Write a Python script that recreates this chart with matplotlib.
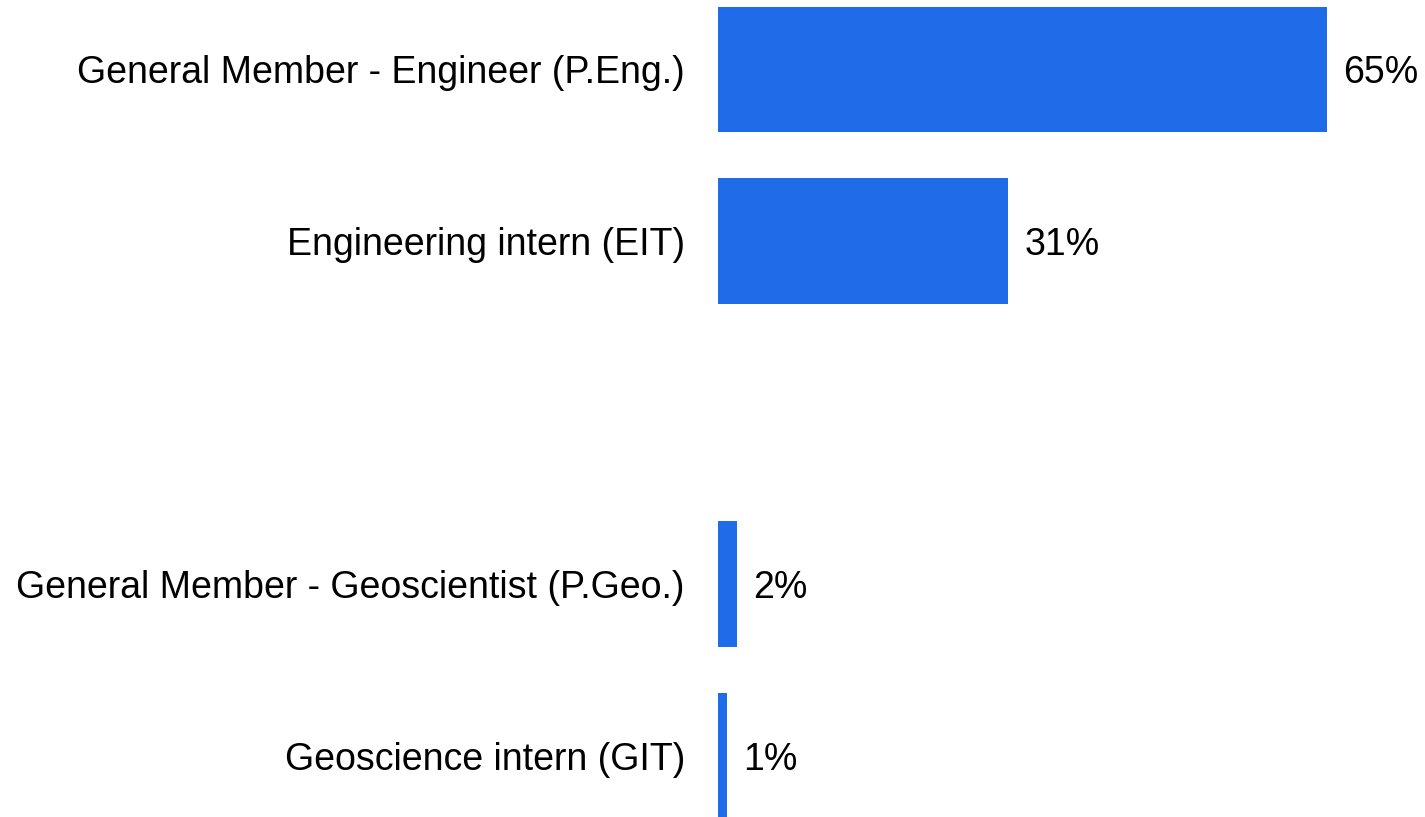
import numpy as np
import matplotlib
matplotlib.use("Agg")
import matplotlib.pyplot as plt

FONT = "Liberation Sans"

# categories (one empty slot between the engineering and geoscience groups)
categories = ["General Member - Engineer (P.Eng.)",
              "Engineering intern (EIT)",
              "",
              "General Member - Geoscientist (P.Geo.)",
              "Geoscience intern (GIT)"]
shares = [65, 31, np.nan, 2, 1]
value_labels = ["65%", "31%", "", "2%", "1%"]

fig = plt.figure(figsize=(14.25, 8.17), dpi=100)
ax = fig.add_axes([718/1425, 0, 707/1425, 1])

ypos = np.arange(len(categories))
bars = ax.barh(ypos, shares, height=0.734, color="#1f6be8")

for y, v, lab in zip(ypos, shares, value_labels):
    if lab:
        ax.annotate(lab, xy=(v, y), xytext=(11.5, 0), textcoords="offset points",
                    ha="left", va="center_baseline", fontsize=27, color="#000000",
                    family=FONT)

ax.set_yticks(ypos)
ax.set_yticklabels(categories, fontsize=27, color="#000000", family=FONT)
ax.tick_params(axis="y", length=0, pad=23.8)
ax.set_xticks([])
ax.set_xlim(0, 707/9.37)
ax.set_ylim(4.356, -0.405)
for s in ax.spines.values():
    s.set_visible(False)

fig.savefig("out.png", dpi=100)
